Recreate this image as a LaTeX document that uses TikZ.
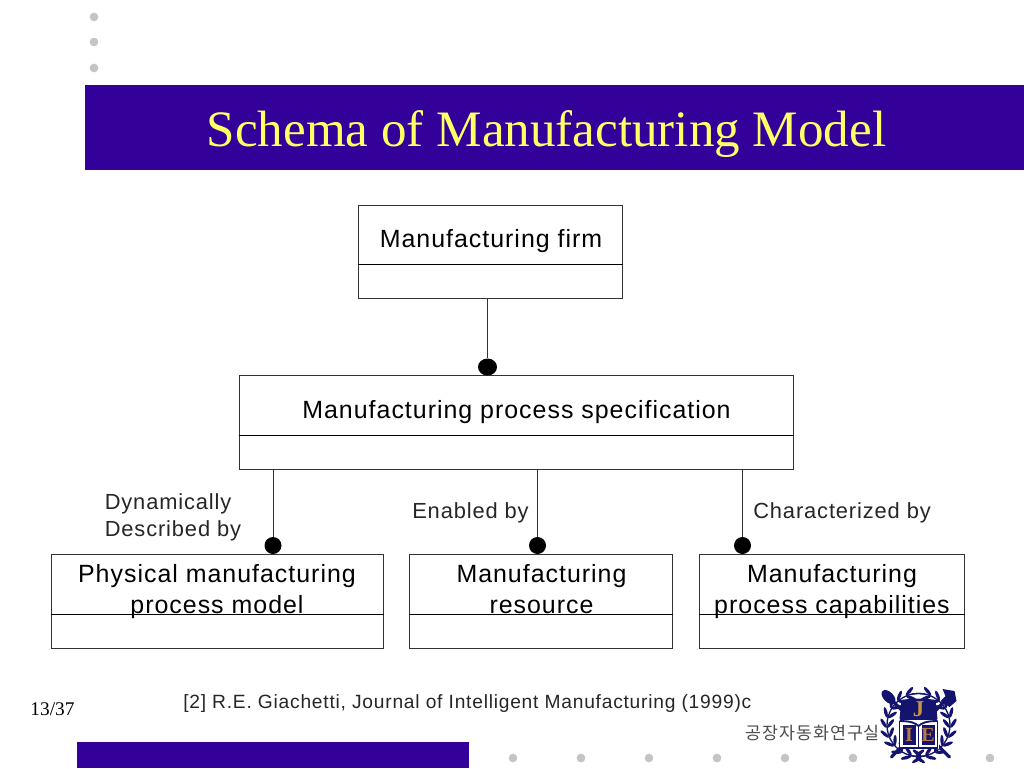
\documentclass[tikz,border=0pt]{standalone}
\usepackage{fontspec}
\setmainfont{Liberation Sans}
\newfontfamily\titlefont{Liberation Serif}
\newfontfamily\boxfont[LetterSpace=4]{Liberation Sans}
\newfontfamily\krfont[LetterSpace=6]{Noto Sans CJK KR}
\definecolor{band}{HTML}{330099}
\definecolor{titleyellow}{HTML}{FFFF66}
\definecolor{dotgray}{HTML}{C4C4C4}
\definecolor{linegray}{HTML}{333333}
\definecolor{crest}{HTML}{14146E}
\definecolor{crestgold}{HTML}{C8963C}
\definecolor{crestbrown}{HTML}{B87848}
\tikzset{
  umlbox/.style={draw=linegray,line width=0.75pt,anchor=north west,inner sep=0pt},
  divider/.style={draw=black,line width=0.75pt},
  link/.style={draw=linegray,line width=0.75pt},
  ball/.style={circle,fill=black,inner sep=0pt,minimum size=12.75pt},
  boxtext/.style={font=\boxfont\fontsize{18.7pt}{23.25pt}\selectfont,align=center,text=black,inner sep=0pt},
  reltext/.style={font=\boxfont\fontsize{16.4pt}{20.25pt}\selectfont,align=left,text=black!85,inner sep=0pt},
  deco/.style={circle,fill=dotgray,inner sep=0pt,minimum size=6.5pt},
  crestline/.style={draw=crest,line width=2.4pt,line cap=round},
}
\begin{document}
\begin{tikzpicture}[x=0.75pt,y=-0.75pt]
\useasboundingbox (0,0) rectangle (1024,768);
\fill[white] (0,0) rectangle (1024,768);
% decoration
\foreach \i/\y in {1/17,2/42,3/68} \node[deco] (top\i) at (94,\y) {};
\foreach \i/\x in {1/513,2/581,3/649,4/717,5/785,6/853,7/990} \node[deco] (bot\i) at (\x,758) {};
\node[fill=band,draw=none,minimum width=939*0.75pt,minimum height=85*0.75pt,inner sep=0pt,anchor=north west] (bandbox) at (85,85) {};
\node[fill=band,draw=none,minimum width=392*0.75pt,minimum height=26*0.75pt,inner sep=0pt,anchor=north west] (footbar) at (77,742) {};
\node[font=\titlefont\fontsize{38.3pt}{40pt}\selectfont,text=titleyellow,inner sep=0pt,anchor=base] (title) at (546.5,146) {Schema of Manufacturing Model};
% boxes
\node[umlbox,minimum width=264*0.75pt,minimum height=93*0.75pt] (firm) at (358,205) {};
\node[umlbox,minimum width=554*0.75pt,minimum height=94*0.75pt] (spec) at (238.5,375) {};
\node[umlbox,minimum width=332*0.75pt,minimum height=94*0.75pt] (model) at (50.5,554) {};
\node[umlbox,minimum width=263*0.75pt,minimum height=94*0.75pt] (res) at (408.5,554) {};
\node[umlbox,minimum width=265*0.75pt,minimum height=94*0.75pt] (cap) at (699,554) {};
\draw[divider] (firm.west |- 0,264.5) -- (firm.east |- 0,264.5);
\draw[divider] (spec.west |- 0,435.5) -- (spec.east |- 0,435.5);
\draw[divider] (model.west |- 0,614.5) -- (model.east |- 0,614.5);
\draw[divider] (res.west |- 0,614.5) -- (res.east |- 0,614.5);
\draw[divider] (cap.west |- 0,614.5) -- (cap.east |- 0,614.5);
% texts
\node[boxtext,anchor=base] (t1) at (491,247) {Manufacturing firm};
\node[boxtext,anchor=base] (t2) at (516.5,418) {Manufacturing process specification};
\node[boxtext,anchor=base] (t3) at (217,613) {Physical manufacturing\\process model};
\node[boxtext,anchor=base] (t4) at (541.5,613) {Manufacturing\\resource};
\node[boxtext,anchor=base] (t5) at (832,613) {Manufacturing\\process capabilities};
% balls and connectors
\node[ball,xscale=1.12] (b0) at (487.5,367) {};
\node[ball] (b1) at (273,545.5) {};
\node[ball] (b2) at (537.5,545.5) {};
\node[ball] (b3) at (742.5,545.5) {};
\draw[link] (firm.south -| b0) -- (b0);
\draw[link] (spec.south -| b1) -- (b1);
\draw[link] (spec.south -| b2) -- (b2);
\draw[link] (spec.south -| b3) -- (b3);
% relation labels
\node[reltext,anchor=base west] (r1) at (104.5,536) {Dynamically\\Described by};
\node[reltext,anchor=base west] (r2) at (412,518) {Enabled by};
\node[reltext,anchor=base west] (r3) at (753,518) {Characterized by};
% footer
\node[font=\titlefont\fontsize{14.5pt}{16pt}\selectfont,inner sep=0pt] (page) at (52.5,709) {13/37};
\node[font=\boxfont\fontsize{14.4pt}{16pt}\selectfont,text=black!85,inner sep=0pt,anchor=base west] (ref) at (183,708) {[2] R.E. Giachetti, Journal of Intelligent Manufacturing (1999)c};
\node[font=\krfont\fontsize{13pt}{14pt}\selectfont,text=black!70,inner sep=0pt] (lab) at (812.5,733) {공장자동화연구실};
% crest
\begin{scope}[shift={(918.5,725)}]
  % wreath: chevrons of leaves pointing up each side
  \foreach \a in {-75,-57,...,103} {
    \fill[crest,shift={(\a:35)},rotate=-\a-90-35] (0,0) ellipse[x radius=5.5,y radius=1.7];
    \fill[crest,shift={(\a:28)},rotate=-\a-90+35] (0,0) ellipse[x radius=5.5,y radius=1.7];
    \fill[crest,shift={(180-\a:35)},rotate=\a+90+35] (0,0) ellipse[x radius=5.5,y radius=1.7];
    \fill[crest,shift={(180-\a:28)},rotate=\a+90-35] (0,0) ellipse[x radius=5.5,y radius=1.7];
  }
  \draw[crest,line width=1pt] (-31.5,0) arc[start angle=180,end angle=70,radius=31.5];
  \draw[crest,line width=1pt] (-31.5,0) arc[start angle=180,end angle=285,radius=31.5];
  \draw[crest,line width=1pt] (31.5,0) arc[start angle=0,end angle=110,radius=31.5];
  \draw[crest,line width=1pt] (31.5,0) arc[start angle=0,end angle=-105,radius=31.5];
  % sword and hammer
  \draw[crestline] (-28,-26) -- (31,32);
  \draw[crestline] (28,-26) -- (-27,32);
  \fill[crest,shift={(-30,-28)},rotate=-45] (0,0) ellipse[x radius=8.5,y radius=5];
  \fill[crest] (24,-36) -- (36,-34) -- (38,-24) -- (31,-18) -- (22,-24) -- (27,-29) -- cycle;
  % shield
  \fill[crest] (-17,-25) .. controls (-6,-27) and (6,-27) .. (17,-25) -- (19,-6) -- (3,8) -- (-3,8) -- (-19,-6) -- cycle;
  % book
  \fill[white] (-20,-5) rectangle (20,24);
  \draw[crest,line width=1.4pt] (-19,-4) -- (-19,23) -- (19,23) -- (19,-4);
  \draw[crest,line width=1.4pt] (-19,-4) .. controls (-8,-4) and (-3,-2) .. (0,1) .. controls (3,-2) and (8,-4) .. (19,-4);
  \draw[crest,line width=1.4pt] (0,1) -- (0,23);
  \fill[crest] (-16,0) rectangle (-3,20);
  \fill[crest] (3,0) rectangle (16,20);
  \node[font=\titlefont\bfseries\fontsize{17pt}{18pt}\selectfont,text=crestgold,inner sep=0pt] (lj) at (0,-16) {J};
  \node[font=\titlefont\bfseries\fontsize{15pt}{16pt}\selectfont,text=crestbrown,inner sep=0pt] (li) at (-9.5,10) {I};
  \node[font=\titlefont\bfseries\fontsize{15pt}{16pt}\selectfont,text=crestbrown,inner sep=0pt] (le) at (9.5,10) {E};
\end{scope}
\end{tikzpicture}
\end{document}
